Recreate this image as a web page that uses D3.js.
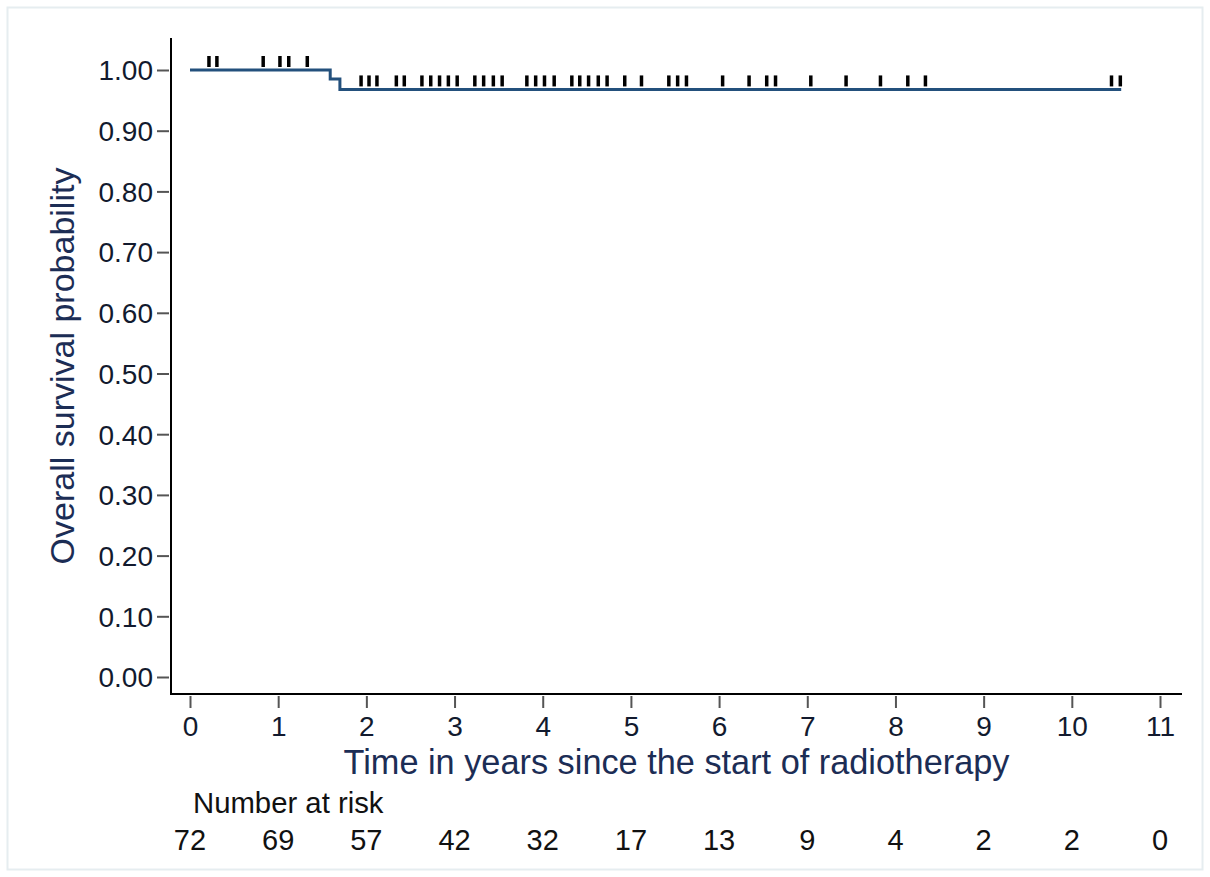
<!DOCTYPE html>
<html>
<head>
<meta charset="utf-8">
<script src="https://cdn.jsdelivr.net/npm/d3@7"></script>
<style>
  html, body { margin: 0; padding: 0; background: #fff; }
  svg { display: block; }
  text { font-family: "Liberation Sans", Arial, sans-serif; }
</style>
</head>
<body>
<script>
// Kaplan–Meier overall survival with censoring marks and a number-at-risk row
const eventTimes = [0, 1.59, 1.70];          // years: start and the two deaths
const eventSurvival = [1.0, 0.985, 0.968];    // survival after each step
const followUpEnd = 10.56;                    // last follow-up time (years)

const censorTimes = [
  0.215, 0.305, 0.83, 1.02, 1.12, 1.33,
  1.94, 2.03, 2.12, 2.34, 2.43, 2.63, 2.73, 2.83, 2.93, 3.03,
  3.23, 3.33, 3.44, 3.54, 3.82, 3.92, 4.02, 4.13, 4.33, 4.42,
  4.52, 4.63, 4.73, 4.93, 5.12, 5.43, 5.53, 5.63, 6.04, 6.34,
  6.54, 6.64, 7.04, 7.44, 7.83, 8.14, 8.34, 10.45, 10.55
];

const xTicks = [0, 1, 2, 3, 4, 5, 6, 7, 8, 9, 10, 11];
const yTicks = [0, 0.1, 0.2, 0.3, 0.4, 0.5, 0.6, 0.7, 0.8, 0.9, 1.0];
const riskTimes = [0, 1, 2, 3, 4, 5, 6, 7, 8, 9, 10, 11];
const riskCounts = [72, 69, 57, 42, 32, 17, 13, 9, 4, 2, 2, 0];

const W = 1210, H = 877;
const lineColor = "#23507c";
const titleColor = "#1c2d55";

const svg = d3.select("body").append("svg").attr("width", W).attr("height", H);

// outer graph-region frame
svg.append("rect").attr("x", 7.5).attr("y", 7.5).attr("width", 1195).attr("height", 862)
  .attr("fill", "#fff").attr("stroke", "#e6edf0").attr("stroke-width", 2);

const x = d3.scaleLinear().domain([0, 11]).range([190, 1160]);
const y = d3.scaleLinear().domain([0, 1]).range([677, 70]);

const plotLeft = 171, plotRight = 1182, plotTop = 38, plotBottom = 694;

// y axis
const yAxis = d3.axisLeft(y).tickValues(yTicks).tickFormat(d3.format(".2f"))
  .tickSize(12).tickPadding(5);
const gy = svg.append("g").attr("transform", `translate(${plotLeft},0)`).call(yAxis);
gy.select(".domain").remove();
gy.selectAll(".tick line").attr("stroke", "#555").attr("stroke-width", 2)
  .attr("x2", -14).attr("x1", -2);
gy.selectAll(".tick text").attr("font-size", 28).attr("fill", "#121a2e")
  .attr("x", -18).attr("dy", "0.35em");
svg.append("line").attr("x1", plotLeft).attr("x2", plotLeft)
  .attr("y1", plotTop).attr("y2", plotBottom + 1)
  .attr("stroke", "#000").attr("stroke-width", 2);

// x axis
const xAxis = d3.axisBottom(x).tickValues(xTicks).tickFormat(d3.format("d"))
  .tickSize(12).tickPadding(8);
const gx = svg.append("g").attr("transform", `translate(0,${plotBottom})`).call(xAxis);
gx.select(".domain").remove();
gx.selectAll(".tick line").attr("stroke", "#555").attr("stroke-width", 2)
  .attr("y1", 2).attr("y2", 14);
gx.selectAll(".tick text").attr("font-size", 28).attr("fill", "#121a2e")
  .attr("y", 22).attr("dy", "0.71em");
svg.append("line").attr("x1", plotLeft - 1).attr("x2", plotRight)
  .attr("y1", plotBottom).attr("y2", plotBottom)
  .attr("stroke", "#000").attr("stroke-width", 2);

// axis titles
svg.append("text").attr("x", (plotLeft + plotRight) / 2).attr("y", 774)
  .attr("text-anchor", "middle").attr("font-size", 34.3).attr("fill", titleColor)
  .text("Time in years since the start of radiotherapy");
svg.append("text")
  .attr("transform", `translate(74,${(plotTop + plotBottom) / 2}) rotate(-90)`)
  .attr("text-anchor", "middle").attr("font-size", 34).attr("fill", titleColor)
  .text("Overall survival probability");

// survival step curve
const curvePts = eventTimes.map((t, i) => [t, eventSurvival[i]]);
curvePts.push([followUpEnd, eventSurvival[eventSurvival.length - 1]]);
const line = d3.line().x(d => x(d[0])).y(d => y(d[1])).curve(d3.curveStepAfter);
svg.append("path").attr("d", line(curvePts)).attr("fill", "none")
  .attr("stroke", lineColor).attr("stroke-width", 3);

// censoring marks
const survAt = t => {
  let s = eventSurvival[0];
  eventTimes.forEach((et, i) => { if (t >= et) s = eventSurvival[i]; });
  return s;
};
svg.append("g").selectAll("line").data(censorTimes).join("line")
  .attr("x1", d => x(d)).attr("x2", d => x(d))
  .attr("y1", d => y(survAt(d)) - 14).attr("y2", d => y(survAt(d)) - 3)
  .attr("stroke", "#000").attr("stroke-width", 3.5);

// number at risk
svg.append("text").attr("x", 193).attr("y", 813).attr("font-size", 29.3)
  .attr("fill", "#111").text("Number at risk");
svg.append("g").selectAll("text").data(riskCounts).join("text")
  .attr("x", (d, i) => x(riskTimes[i])).attr("y", 850)
  .attr("text-anchor", "middle").attr("font-size", 29).attr("fill", "#111")
  .text(d => d);
</script>
</body>
</html>
